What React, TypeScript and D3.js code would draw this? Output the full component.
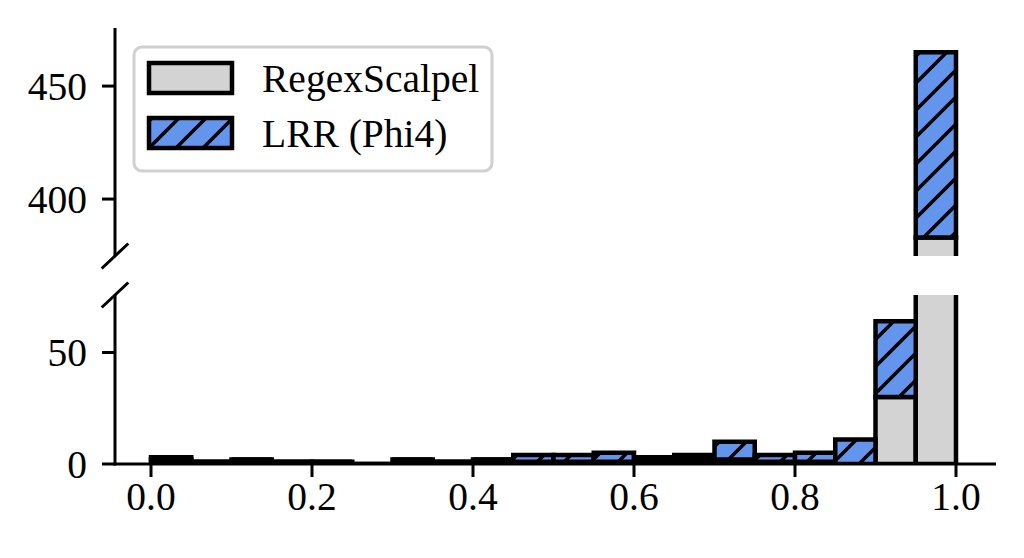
import React from 'react';
import * as d3 from 'd3';

// ---- data ----
const binEdges = [0, 0.05, 0.1, 0.15, 0.2, 0.25, 0.3, 0.35, 0.4, 0.45, 0.5, 0.55, 0.6, 0.65, 0.7, 0.75, 0.8, 0.85, 0.9, 0.95, 1.0];
const regexScalpel = [2, 1, 2, 1, 1, 0, 2, 1, 2, 1, 1, 1, 2, 2, 2, 1, 1, 0, 30, 383];
const lrrPhi4 = [1, 0, 0, 0, 0, 0, 0, 0, 0, 3, 3, 4, 1, 2, 8, 3, 4, 11, 34, 82];
const seriesNames = ['RegexScalpel', 'LRR (Phi4)'];
const xTicks = [0, 0.2, 0.4, 0.6, 0.8, 1.0];
const xTickLabels = ['0.0', '0.2', '0.4', '0.6', '0.8', '1.0'];
const yTicksTop = [400, 450];
const yTicksBottom = [0, 50];

const FONT = "'Times New Roman', 'Liberation Serif', 'DejaVu Serif', serif";
const GRAY = '#d3d3d3';
const BLUE = '#6495ED';
const FS = 39.5;
const EDGE = 4.5;

// ---- layout ----
const W = 1024, H = 558;
const axLeft = 115, axRight = 996;
const top1 = 28, bot1 = 256; // upper panel
const top2 = 295, bot2 = 464; // lower panel

const x = d3.scaleLinear().domain([0, 1]).range([151, 956]);
const yTop = d3.scaleLinear().domain([374.8, 475.7]).range([bot1, top1]);
const yBot = d3.scaleLinear().domain([0, 75.8]).range([bot2, top2]);

function rectPath(x0: number, x1: number, yb: number, yt: number) {
  return `M${x0},${yb}H${x1}V${yt}H${x0}Z`;
}

function Bars({ y, clip }: { y: d3.ScaleLinear<number, number>; clip: string }) {
  const n = regexScalpel.length;
  const idx = d3.range(n);
  return (
    <g clipPath={`url(#${clip})`}>
      {idx.map((i) => {
        const x0 = x(binEdges[i]), x1 = x(binEdges[i + 1]);
        const d = rectPath(x0, x1, y(0), y(regexScalpel[i]));
        return <path key={'g' + i} d={d} fill={GRAY} stroke="#000" strokeWidth={EDGE} strokeLinejoin="miter" />;
      })}
      {idx.map((i) => {
        const x0 = x(binEdges[i]), x1 = x(binEdges[i + 1]);
        const d = rectPath(x0, x1, y(regexScalpel[i]), y(regexScalpel[i] + lrrPhi4[i]));
        return (
          <g key={'b' + i}>
            <path d={d} fill={BLUE} />
            <path d={d} fill="url(#hatch)" />
            <path d={d} fill="none" stroke="#000" strokeWidth={EDGE} strokeLinejoin="miter" />
          </g>
        );
      })}
    </g>
  );
}

export default function App() {
  const hp = 27;
  return (
    <svg width={W} height={H} viewBox={`0 0 ${W} ${H}`} style={{ position: 'absolute', left: 0, top: 0, background: '#fff' }}>
      <defs>
        <pattern id="hatch" patternUnits="userSpaceOnUse" width={hp} height={hp}>
          <path
            d={`M0,${hp}L${hp},0M${-hp / 4},${hp / 4}L${hp / 4},${-hp / 4}M${(3 * hp) / 4},${(5 * hp) / 4}L${(5 * hp) / 4},${(3 * hp) / 4}`}
            stroke="#000"
            strokeWidth={3.5}
          />
        </pattern>
        <clipPath id="clipTop">
          <rect x={axLeft} y={top1} width={axRight - axLeft} height={bot1 - top1} />
        </clipPath>
        <clipPath id="clipBot">
          <rect x={axLeft} y={top2} width={axRight - axLeft} height={bot2 - top2} />
        </clipPath>
      </defs>
      <rect x={0} y={0} width={W} height={H} fill="#fff" />

      <Bars y={yTop} clip="clipTop" />
      <Bars y={yBot} clip="clipBot" />

      {/* spines */}
      <line x1={axLeft} x2={axLeft} y1={top1} y2={bot1} stroke="#000" strokeWidth={3} />
      <line x1={axLeft} x2={axLeft} y1={top2} y2={bot2 + 1.5} stroke="#000" strokeWidth={3} />
      <line x1={axLeft - 1.5} x2={axRight} y1={bot2} y2={bot2} stroke="#000" strokeWidth={3} />

      {/* break marks */}
      <path
        d={`M${axLeft - 13.3},${bot1 + 12.5}L${axLeft + 13.3},${bot1 - 12.5}M${axLeft - 13.3},${top2 + 12.5}L${axLeft + 13.3},${top2 - 12.5}`}
        stroke="#000"
        strokeWidth={3}
        fill="none"
      />

      {/* y ticks */}
      {yTicksTop.map((t) => (
        <g key={'yt' + t}>
          <line x1={axLeft - 13} x2={axLeft} y1={yTop(t)} y2={yTop(t)} stroke="#000" strokeWidth={3} />
          <text x={axLeft - 28} y={yTop(t) + 13.5} textAnchor="end" fontFamily={FONT} fontSize={FS} fill="#000">
            {t}
          </text>
        </g>
      ))}
      {yTicksBottom.map((t) => (
        <g key={'yb' + t}>
          <line x1={axLeft - 13} x2={axLeft} y1={yBot(t)} y2={yBot(t)} stroke="#000" strokeWidth={3} />
          <text x={axLeft - 28} y={yBot(t) + 13.5} textAnchor="end" fontFamily={FONT} fontSize={FS} fill="#000">
            {t}
          </text>
        </g>
      ))}

      {/* x ticks */}
      {xTicks.map((t, i) => (
        <g key={'xt' + i}>
          <line x1={x(t)} x2={x(t)} y1={bot2} y2={bot2 + 13} stroke="#000" strokeWidth={3} />
          <text x={x(t)} y={bot2 + 46} textAnchor="middle" fontFamily={FONT} fontSize={FS} fill="#000">
            {xTickLabels[i]}
          </text>
        </g>
      ))}

      {/* legend */}
      <rect x={134} y={47} width={358} height={124} rx={8} fill="#fff" fillOpacity={0.8} stroke="#d0d0d0" strokeWidth={3} />
      <path d={rectPath(149, 232, 93, 63)} fill={GRAY} stroke="#000" strokeWidth={EDGE} />
      <path d={rectPath(149, 232, 148, 118)} fill={BLUE} />
      <path d={rectPath(149, 232, 148, 118)} fill="url(#hatch)" />
      <path d={rectPath(149, 232, 148, 118)} fill="none" stroke="#000" strokeWidth={EDGE} />
      <text x={262} y={91.5} fontFamily={FONT} fontSize={FS} fill="#000">
        {seriesNames[0]}
      </text>
      <text x={262} y={146.5} fontFamily={FONT} fontSize={FS} fill="#000">
        {seriesNames[1]}
      </text>
    </svg>
  );
}
